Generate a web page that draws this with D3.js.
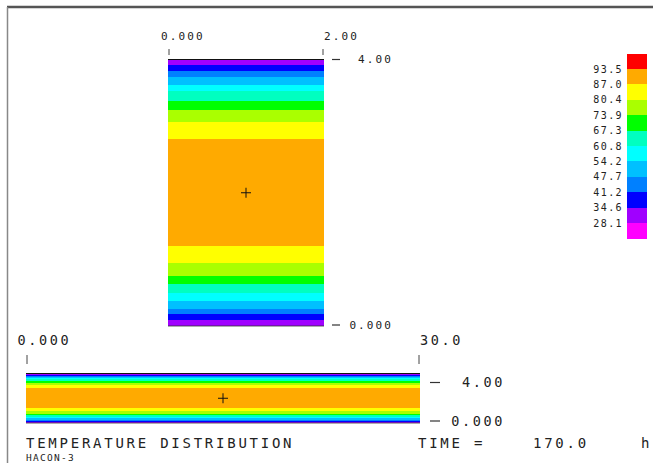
<!DOCTYPE html>
<html>
<head>
<meta charset="utf-8">
<script src="https://cdn.jsdelivr.net/npm/d3@7"></script>
<style>
  body { margin: 0; background: #fff; }
  svg { display: block; }
  text { font-family: "DejaVu Sans Mono", monospace; fill: #222; }
</style>
</head>
<body>
<div id="chart"></div>
<script>
// contour class limits (legend) and their colours, low -> high
const legendLevels = [28.1, 34.6, 41.2, 47.7, 54.2, 60.8, 67.3, 73.9, 80.4, 87.0, 93.5];
const levelColors = ['#ff00ff', '#a000ff', '#0000ff', '#0080ff', '#00c0ff', '#00ffff',
                     '#00ffc0', '#00ff00', '#aaff00', '#ffff00', '#ffaa00', '#ff0000'];

// temperature bands across the height (y, top -> bottom), same profile along x
const bandTop    = [4.000, 3.910, 3.824, 3.740, 3.624, 3.523, 3.383, 3.248, 3.057, 2.808,
                    1.203, 0.943, 0.756, 0.627, 0.496, 0.380, 0.260, 0.176, 0.095];
const bandBottom = [3.910, 3.824, 3.740, 3.624, 3.523, 3.383, 3.248, 3.057, 2.808, 1.203,
                    0.943, 0.756, 0.627, 0.496, 0.380, 0.260, 0.176, 0.095, 0.000];
const bandTemp   = [31, 38, 44, 51, 57, 64, 70, 77, 84, 90,
                    84, 77, 70, 64, 57, 51, 44, 38, 31];

// tick labels
const upperXTicks = [0, 2];     const upperXLabels = ['0.000', '2.00'];
const upperYTicks = [0, 4];     const upperYLabels = ['0.000', '4.00'];
const lowerXTicks = [0, 30];    const lowerXLabels = ['0.000', '30.0'];
const lowerYTicks = [0, 4];     const lowerYLabels = ['0.000', '4.00'];

const titleText = 'TEMPERATURE DISTRIBUTION';
const timeLabel = 'TIME =';
const timeValue = '170.0';
const timeUnit = 'h';
const codeName = 'HACON-3';

const W = 653, H = 463;
const svg = d3.select('#chart').append('svg').attr('width', W).attr('height', H);

const color = d3.scaleThreshold().domain(legendLevels).range(levelColors);
const bands = bandTop.map((t, i) => ({ top: t, bottom: bandBottom[i], temp: bandTemp[i] }));

// frame
svg.append('line').attr('x1', 7).attr('x2', W).attr('y1', 7).attr('y2', 7)
  .attr('stroke', '#555').attr('stroke-width', 2.5);
svg.append('line').attr('x1', 7.5).attr('x2', 7.5).attr('y1', 7).attr('y2', H)
  .attr('stroke', '#888').attr('stroke-width', 1.5);

function drawPanel(o) {
  const x = d3.scaleLinear().domain(o.xDomain).range(o.xRange);
  const y = d3.scaleLinear().domain([0, 4]).range(o.yRange);
  const g = svg.append('g');

  g.selectAll('rect.band').data(bands).join('rect')
    .attr('class', 'band')
    .attr('x', x(o.xDomain[0]))
    .attr('width', x(o.xDomain[1]) - x(o.xDomain[0]))
    .attr('y', d => y(d.top))
    .attr('height', d => y(d.bottom) - y(d.top))
    .attr('fill', d => color(d.temp))
    .attr('shape-rendering', 'crispEdges');

  // top and bottom edges
  g.append('line')
    .attr('x1', x(o.xDomain[0])).attr('x2', x(o.xDomain[1]))
    .attr('y1', y(4)).attr('y2', y(4))
    .attr('stroke', '#111').attr('stroke-width', 1.2);
  g.append('line')
    .attr('x1', x(o.xDomain[0])).attr('x2', x(o.xDomain[1]))
    .attr('y1', y(0)).attr('y2', y(0))
    .attr('stroke', '#333').attr('stroke-width', 0.8);

  // centre cross
  const cx = x((o.xDomain[0] + o.xDomain[1]) / 2), cy = y(2);
  g.append('path')
    .attr('d', `M${cx - 5},${cy}H${cx + 5}M${cx},${cy - 5}V${cy + 5}`)
    .attr('stroke', '#111').attr('stroke-width', 1);

  // x ticks above the panel
  o.xTicks.forEach((v, i) => {
    const px = x(v) + (i === 0 ? 1 : -1);
    g.append('line').attr('x1', px).attr('x2', px)
      .attr('y1', o.xTickY[0]).attr('y2', o.xTickY[1])
      .attr('stroke', '#444').attr('stroke-width', 1);
    g.append('text')
      .attr('x', x(v) + (i === 0 ? o.xLabelShift : 0))
      .attr('y', o.xLabelY)
      .attr('font-size', o.fs).attr('letter-spacing', o.ls)
      .text(o.xLabels[i]);
  });

  // y ticks to the right
  o.yTicks.forEach((v, i) => {
    const py = y(v) + o.yTickShift[i];
    g.append('line')
      .attr('x1', x(o.xDomain[1]) + o.dashGap).attr('x2', x(o.xDomain[1]) + o.dashGap + o.dashLen)
      .attr('y1', py).attr('y2', py)
      .attr('stroke', '#333').attr('stroke-width', 1.2);
    g.append('text')
      .attr('x', o.yLabelRight).attr('y', py)
      .attr('dy', '0.36em')
      .attr('text-anchor', 'end')
      .attr('font-size', o.fs).attr('letter-spacing', o.ls)
      .text(o.yLabels[i]);
  });
}

drawPanel({
  xDomain: [0, 2], xRange: [168, 324], yRange: [326, 59.5],
  xTicks: upperXTicks, xLabels: upperXLabels, yTicks: upperYTicks, yLabels: upperYLabels,
  xTickY: [49, 55], xLabelY: 39.5, xLabelShift: -7, fs: 11, ls: 2.1,
  yTickShift: [-1, 0], dashGap: 8, dashLen: 8, yLabelRight: 393
});

drawPanel({
  xDomain: [0, 30], xRange: [26, 420], yRange: [423, 373.5],
  xTicks: lowerXTicks, xLabels: lowerXLabels, yTicks: lowerYTicks, yLabels: lowerYLabels,
  xTickY: [355, 364], xLabelY: 345, xLabelShift: -8.5, fs: 13.5, ls: 2.6,
  yTickShift: [-2, 9], dashGap: 10, dashLen: 10, yLabelRight: 505
});

// legend
const legendY = d3.scaleLinear().domain([0, levelColors.length]).range([238.5, 53.5]);
const legend = svg.append('g');
legend.selectAll('rect').data(levelColors).join('rect')
  .attr('x', 627).attr('width', 20)
  .attr('y', (d, i) => legendY(i + 1))
  .attr('height', (d, i) => legendY(i) - legendY(i + 1))
  .attr('fill', d => d)
  .attr('shape-rendering', 'crispEdges');
legend.selectAll('text').data(legendLevels).join('text')
  .attr('x', 623).attr('y', (d, i) => legendY(i + 1))
  .attr('dy', '0.36em').attr('text-anchor', 'end')
  .attr('font-size', 10).attr('letter-spacing', 1.4)
  .text(d => d.toFixed(1));

// footer texts
svg.append('text').attr('x', 26).attr('y', 448)
  .attr('font-size', 14).attr('letter-spacing', 2.75).text(titleText);
svg.append('text').attr('x', 418).attr('y', 448)
  .attr('font-size', 14).attr('letter-spacing', 2.75).text(timeLabel);
svg.append('text').attr('x', 533).attr('y', 448)
  .attr('font-size', 14).attr('letter-spacing', 2.75).text(timeValue);
svg.append('text').attr('x', 641).attr('y', 448)
  .attr('font-size', 14).text(timeUnit);
svg.append('text').attr('x', 26).attr('y', 461)
  .attr('font-size', 9.5).attr('letter-spacing', 1.3).text(codeName);
</script>
</body>
</html>
